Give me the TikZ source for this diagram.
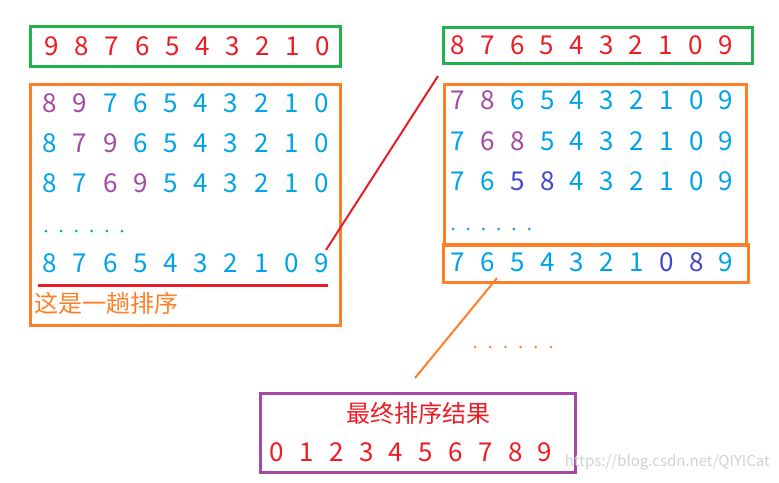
\documentclass[tikz,border=0pt]{standalone}
\usepackage{fontspec}
\setmainfont{Noto Sans CJK SC}
\newfontfamily\cjk{Noto Sans CJK SC}
\definecolor{pred}{HTML}{ED1C24}
\definecolor{pblue}{HTML}{00A2E8}
\definecolor{ppurple}{HTML}{A349A4}
\definecolor{pdblue}{HTML}{3F48CC}
\definecolor{pgreen}{HTML}{22B14C}
\definecolor{porange}{HTML}{FF7F27}
\tikzset{
  dig/.style={font=\fontsize{26}{26}\selectfont, anchor=center, inner sep=0pt},
  frame/.style={draw=#1, line width=3pt},
}
\newcommand{\digrow}[5]{% x0, dx, y, list of digit/color, name prefix
  \foreach \d/\c [count=\i from 0] in {#4} {
    \node[dig, text=\c] (#5\i) at ({#1+#2*\i},#3) {\d};
  }
}
\begin{document}
\begin{tikzpicture}[x=1pt,y=-1pt]
\useasboundingbox (0,0) rectangle (779,482);
% left
\draw[frame=pgreen] (30,26) rectangle (340,66);
\digrow{52}{30.1}{46}{9/pred,8/pred,7/pred,6/pred,5/pred,4/pred,3/pred,2/pred,1/pred,0/pred}{la}
\draw[frame=porange] (30,84) rectangle (340,325);
\digrow{50}{30.2}{103}{8/ppurple,9/ppurple,7/pblue,6/pblue,5/pblue,4/pblue,3/pblue,2/pblue,1/pblue,0/pblue}{lb}
\digrow{50}{30.2}{143}{8/pblue,7/ppurple,9/ppurple,6/pblue,5/pblue,4/pblue,3/pblue,2/pblue,1/pblue,0/pblue}{lc}
\digrow{50}{30.2}{183}{8/pblue,7/pblue,6/ppurple,9/ppurple,5/pblue,4/pblue,3/pblue,2/pblue,1/pblue,0/pblue}{ld}
\foreach \i in {0,...,5} \fill[pblue] ({46+15.2*\i},231) circle (1.5);
\digrow{50}{30.2}{263}{8/pblue,7/pblue,6/pblue,5/pblue,4/pblue,3/pblue,2/pblue,1/pblue,0/pblue,9/pblue}{le}
\draw[pred, line width=3pt] (38,285) -- (328,285);
\node[anchor=west, text=porange, font=\cjk\fontsize{24}{24}\selectfont, inner sep=0pt] (lt) at (34,303) {这是一趟排序};
% right
\draw[frame=pgreen] (443,27) rectangle (752,63);
\digrow{458}{29.7}{45}{8/pred,7/pred,6/pred,5/pred,4/pred,3/pred,2/pred,1/pred,0/pred,9/pred}{ra}
\draw[frame=porange] (444,84) rectangle (746,245);
\digrow{458}{29.8}{100}{7/ppurple,8/ppurple,6/pblue,5/pblue,4/pblue,3/pblue,2/pblue,1/pblue,0/pblue,9/pblue}{rb}
\digrow{458}{29.8}{141}{7/pblue,6/ppurple,8/ppurple,5/pblue,4/pblue,3/pblue,2/pblue,1/pblue,0/pblue,9/pblue}{rc}
\digrow{458}{29.8}{181}{7/pblue,6/pblue,5/pdblue,8/pdblue,4/pblue,3/pblue,2/pblue,1/pblue,0/pblue,9/pblue}{rd}
\foreach \i in {0,...,5} \fill[pblue] ({453+15.2*\i},229) circle (1.5);
\draw[frame=porange] (443,244) rectangle (748,282);
\digrow{458}{29.8}{262}{7/pblue,6/pblue,5/pblue,4/pblue,3/pblue,2/pblue,1/pblue,0/pdblue,8/pdblue,9/pblue}{re}
% connectors
\coordinate (c1a) at (326,250); \coordinate (c1b) at (438,76);
\draw[pred, line width=2pt] (c1a) -- (c1b);
\coordinate (c2a) at (497,278); \coordinate (c2b) at (415,378);
\draw[porange, line width=2pt] (c2a) -- (c2b);
\foreach \i in {0,...,5} \fill[porange] ({475+15.2*\i},347) circle (1.4);
% final
\draw[frame=ppurple] (260,393) rectangle (575,472);
\node[text=pred, font=\cjk\fontsize{24}{24}\selectfont, inner sep=0pt] (ft) at (418,413) {最终排序结果};
\digrow{277}{29.8}{452}{0/pred,1/pred,2/pred,3/pred,4/pred,5/pred,6/pred,7/pred,8/pred,9/pred}{fd}
\node[anchor=east, text=black!18, font=\fontsize{15}{15}\selectfont, inner sep=0pt] (wm) at (770,462) {https://blog.csdn.net/QIYICat};
\end{tikzpicture}
\end{document}
